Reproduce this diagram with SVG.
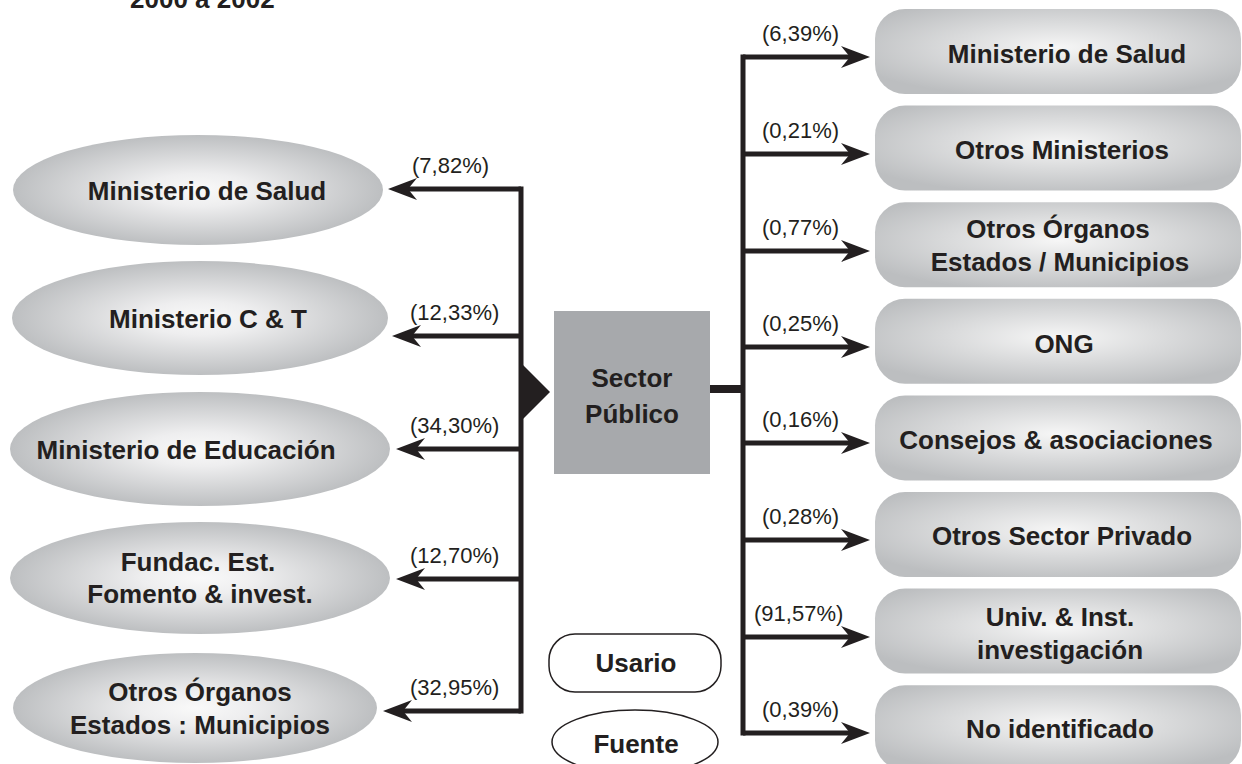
<svg xmlns="http://www.w3.org/2000/svg" width="1242" height="764" viewBox="0 0 1242 764">
<style>
.lbl{font-family:"Liberation Sans",Arial,sans-serif;font-weight:bold;font-size:26px;fill:#231f20;text-anchor:middle}
.pct{font-family:"Liberation Sans",Arial,sans-serif;font-size:22px;fill:#231f20}
.ln{stroke:#231f20;stroke-width:5;fill:none}
.ell{fill:url(#gE)}
.box{fill:url(#gB)}
</style>
<defs>
<radialGradient id="gE" cx="0.5" cy="0.5" r="0.5">
<stop offset="0" stop-color="#f9f9f9"/>
<stop offset="0.3" stop-color="#eeeeef"/>
<stop offset="1" stop-color="#bdbfc1"/>
</radialGradient>
<radialGradient id="gB" cx="0.5" cy="0.45" r="0.6">
<stop offset="0" stop-color="#f6f6f6"/>
<stop offset="1" stop-color="#bcbec0"/>
</radialGradient>
<marker id="ah" markerUnits="userSpaceOnUse" viewBox="0 -12 30 24" markerWidth="30" markerHeight="24" refX="9" refY="0" orient="auto">
<path d="M29,0 L0,-11 L9,0 L0,11 Z" fill="#231f20"/>
</marker>
</defs>
<text x="130" y="8" class="lbl" style="text-anchor:start">2000 a 2002</text>

<g id="connectors">
<line class="ln" x1="521" y1="186.5" x2="521" y2="713.5"/>
<line class="ln" x1="521" y1="189" x2="408" y2="189" marker-end="url(#ah)"/>
<line class="ln" x1="521" y1="336" x2="412" y2="336" marker-end="url(#ah)"/>
<line class="ln" x1="521" y1="449" x2="416" y2="449" marker-end="url(#ah)"/>
<line class="ln" x1="521" y1="579" x2="416" y2="579" marker-end="url(#ah)"/>
<line class="ln" x1="521" y1="711" x2="403" y2="711" marker-end="url(#ah)"/>
<polygon points="523,365 550,392 523,419" fill="#231f20"/>
<rect x="710" y="385" width="33" height="8" fill="#231f20"/>
<line class="ln" x1="743" y1="54.5" x2="743" y2="735.5"/>
<line class="ln" x1="743" y1="57" x2="850" y2="57" marker-end="url(#ah)"/>
<line class="ln" x1="743" y1="154" x2="850" y2="154" marker-end="url(#ah)"/>
<line class="ln" x1="743" y1="251" x2="850" y2="251" marker-end="url(#ah)"/>
<line class="ln" x1="743" y1="347" x2="850" y2="347" marker-end="url(#ah)"/>
<line class="ln" x1="743" y1="443" x2="850" y2="443" marker-end="url(#ah)"/>
<line class="ln" x1="743" y1="540" x2="850" y2="540" marker-end="url(#ah)"/>
<line class="ln" x1="743" y1="637" x2="850" y2="637" marker-end="url(#ah)"/>
<line class="ln" x1="743" y1="733" x2="850" y2="733" marker-end="url(#ah)"/>
<text class="pct" x="412" y="173">(7,82%)</text>
<text class="pct" x="410" y="320">(12,33%)</text>
<text class="pct" x="410" y="433">(34,30%)</text>
<text class="pct" x="410" y="563">(12,70%)</text>
<text class="pct" x="410" y="695">(32,95%)</text>
<text class="pct" x="762" y="41">(6,39%)</text>
<text class="pct" x="762" y="138">(0,21%)</text>
<text class="pct" x="762" y="235">(0,77%)</text>
<text class="pct" x="762" y="331">(0,25%)</text>
<text class="pct" x="762" y="427">(0,16%)</text>
<text class="pct" x="762" y="524">(0,28%)</text>
<text class="pct" x="754" y="621">(91,57%)</text>
<text class="pct" x="762" y="717">(0,39%)</text>
</g>

<g id="sector">
<rect x="554" y="311" width="156" height="163" fill="#a7a9ac"/>
<text class="lbl" x="632" y="387">Sector</text>
<text class="lbl" x="632" y="423">Público</text>
</g>

<g id="src1"><ellipse class="ell" cx="198" cy="190" rx="185" ry="55"/><text class="lbl" x="207" y="200">Ministerio de Salud</text></g>
<g id="src2"><ellipse class="ell" cx="200" cy="318" rx="188" ry="57"/><text class="lbl" x="208" y="328">Ministerio C &amp; T</text></g>
<g id="src3"><ellipse class="ell" cx="200" cy="449" rx="190" ry="57"/><text class="lbl" x="186" y="459">Ministerio de Educación</text></g>
<g id="src4"><ellipse class="ell" cx="200" cy="578" rx="190" ry="56"/><text class="lbl" x="198" y="571">Fundac. Est.</text><text class="lbl" x="200" y="603">Fomento &amp; invest.</text></g>
<g id="src5"><ellipse class="ell" cx="195" cy="708" rx="182" ry="55"/><text class="lbl" x="200" y="701">Otros Órganos</text><text class="lbl" x="200" y="734">Estados : Municipios</text></g>

<g id="use1"><rect class="box" x="875" y="9" width="366" height="85" rx="30"/><text class="lbl" x="1067" y="63">Ministerio de Salud</text></g>
<g id="use2"><rect class="box" x="875" y="105.6" width="366" height="85" rx="30"/><text class="lbl" x="1062" y="159">Otros Ministerios</text></g>
<g id="use3"><rect class="box" x="875" y="202.2" width="366" height="85" rx="30"/><text class="lbl" x="1058" y="238">Otros Órganos</text><text class="lbl" x="1060" y="271">Estados / Municipios</text></g>
<g id="use4"><rect class="box" x="875" y="298.8" width="366" height="85" rx="30"/><text class="lbl" x="1064" y="353">ONG</text></g>
<g id="use5"><rect class="box" x="875" y="395.4" width="366" height="85" rx="30"/><text class="lbl" x="1056" y="449">Consejos &amp; asociaciones</text></g>
<g id="use6"><rect class="box" x="875" y="492" width="366" height="85" rx="30"/><text class="lbl" x="1062" y="545">Otros Sector Privado</text></g>
<g id="use7"><rect class="box" x="875" y="588.6" width="366" height="85" rx="30"/><text class="lbl" x="1060" y="626">Univ. &amp; Inst.</text><text class="lbl" x="1060" y="659">investigación</text></g>
<g id="use8"><rect class="box" x="875" y="685.2" width="366" height="85" rx="30"/><text class="lbl" x="1060" y="738">No identificado</text></g>

<g id="legend-usario"><rect x="549" y="634" width="172" height="58" rx="26" fill="#fff" stroke="#231f20" stroke-width="1.5"/><text class="lbl" x="636" y="672">Usario</text></g>
<g id="legend-fuente"><ellipse cx="635" cy="742" rx="83" ry="32" fill="#fff" stroke="#231f20" stroke-width="1.5"/><text class="lbl" x="636" y="753">Fuente</text></g>
</svg>
